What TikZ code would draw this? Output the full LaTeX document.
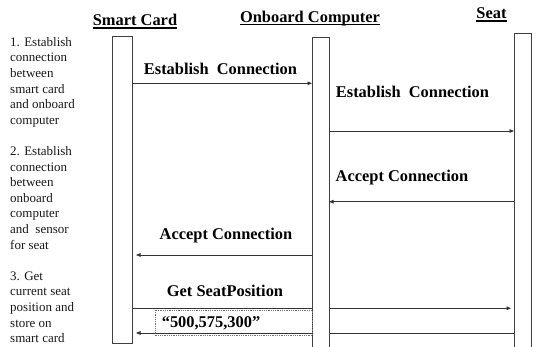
\documentclass[tikz,border=0pt]{standalone}
\usepackage{fontspec}
\setmainfont{Liberation Serif}
\usetikzlibrary{arrows.meta}
\pgfdeclarelayer{back}
\pgfsetlayers{back,main}
\newcommand\myul[1]{\setbox0\hbox{#1}\rlap{\rule[-2.8pt]{\wd0}{1.5pt}}\box0}
\begin{document}
\begin{tikzpicture}[x=1pt,y=-1pt,
  lifebox/.style={draw=black!75, line width=0.9pt, fill=white, inner sep=0pt, outer sep=0pt, anchor=north west},
  msg/.style={draw=black!80, line width=0.8pt, -{Triangle[length=4.5pt,width=3.6pt]}},
  lbl/.style={font=\fontsize{16.4}{19}\selectfont\bfseries, inner sep=0pt, anchor=base},
  side/.style={font=\fontsize{13}{15.6}\selectfont, inner sep=0pt, anchor=base west, text=black!90}]
\useasboundingbox (0,0) rectangle (546,347);

% lifeline boxes
\node[lifebox, minimum width=20pt, minimum height=307pt] (sc) at (112,36) {};
\node[lifebox, minimum width=17pt, minimum height=315pt] (oc) at (312,37) {};
\node[lifebox, minimum width=17pt, minimum height=320pt] (st) at (514,33) {};

% titles
\node[lbl] (t1) at (135,26) {\myul{Smart Card}};
\node[lbl] (t2) at (310,22.3) {\myul{Onboard Computer}};
\node[lbl] (t3) at (491.5,19) {\myul{Seat}};

% message rows
\coordinate (r1) at (0,83.3);
\coordinate (r2) at (0,131);
\coordinate (r3) at (0,201.7);
\coordinate (r4) at (0,255);
\coordinate (r5) at (0,308.3);
\coordinate (r6) at (0,333);
\coordinate (db) at (0,335.7);

\draw[msg] (sc.east |- r1) -- (oc.west |- r1);
\draw[msg] (oc.east |- r2) -- (st.west |- r2);
\draw[msg] (st.west |- r3) -- (oc.east |- r3);
\draw[msg, shorten >=4pt] (oc.west |- r4) -- (sc.east |- r4);
\begin{pgfonlayer}{back}
\draw[msg, shorten >=3pt] (sc.east |- r5) -- (st.west |- r5);
\draw[msg, shorten >=4pt] (st.west |- r6) -- (sc.east |- r6);
\end{pgfonlayer}

% labels
\node[lbl] (l1) at (220.5,74.5) {Establish\ \ Connection};
\node[lbl] (l2) at (412.5,97.5) {Establish\ \ Connection};
\node[lbl] (l3) at (402,182) {Accept Connection};
\node[lbl] (l4) at (226,240) {Accept Connection};
\node[lbl] (l5) at (225,297) {Get SeatPosition};
\node[lbl] (l6) at (211,327) {“500,575,300”};
\draw[black!55, densely dotted, line width=0.8pt] (155,310) rectangle (oc.west |- db);

% side notes
\foreach \n/\t in {0/1. Establish, 1/connection, 2/between, 3/smart card, 4/and onboard, 5/computer,
  7/2. Establish, 8/connection, 9/between, 10/onboard, 11/computer, 12/and\ \ sensor, 13/for seat,
  15/3. Get, 16/current seat, 17/position and, 18/store on, 19/smart card}
  \node[side] (s\n) at (10,46.3+15.6*\n) {\t};
\end{tikzpicture}
\end{document}
